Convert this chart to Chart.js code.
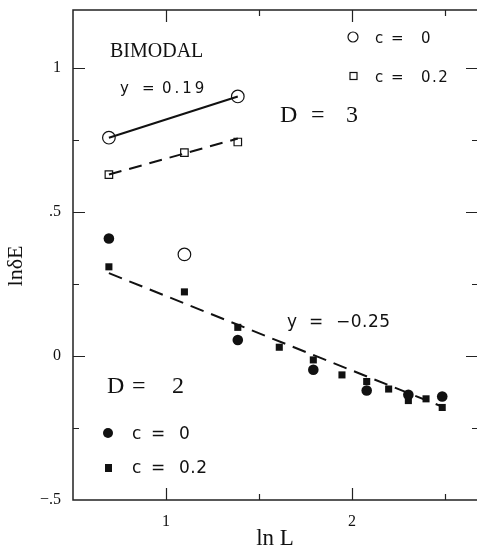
<!DOCTYPE html>
<html>
<head>
<meta charset="utf-8">
<script src="https://cdn.jsdelivr.net/npm/chart.js@4/dist/chart.umd.min.js"></script>
<style>
  html, body { margin: 0; padding: 0; background: #fff; }
  #wrap { width: 477px; height: 559px; }
</style>
</head>
<body>
<div id="wrap"><canvas id="lnE"></canvas></div>
<script>
// ln L values and ln dE readings
const d3c0X = [0.693, 1.099, 1.386];
const d3c0Y = [0.757, 0.352, 0.900];
const d3c02X = [0.693, 1.099, 1.386];
const d3c02Y = [0.629, 0.705, 0.742];
const d2c0X = [0.693, 1.386, 1.792, 2.079, 2.303, 2.485];
const d2c0Y = [0.407, 0.055, -0.048, -0.120, -0.135, -0.141];
const d2c02X = [0.693, 1.099, 1.386, 1.609, 1.792, 1.946, 2.079, 2.197, 2.303, 2.398, 2.485];
const d2c02Y = [0.309, 0.222, 0.099, 0.030, -0.014, -0.066, -0.089, -0.115, -0.155, -0.149, -0.179];

// fitted lines (end points)
const fit3c0X = [0.693, 1.386];
const fit3c0Y = [0.757, 0.900];
const fit3c02X = [0.693, 1.386];
const fit3c02Y = [0.629, 0.754];
const fit2X = [0.693, 2.485];
const fit2Y = [0.287, -0.176];

// ticks
const xLabelValues = [1, 2];
const xLabels = ['1', '2'];
const yLabelValues = [-0.5, 0, 0.5, 1];
const yLabels = ['\u2212.5', '0', '.5', '1'];
const xMajor = [1, 2];
const xMinor = [1.5, 2.5];
const yMajor = [0, 0.5, 1];
const yMinor = [-0.25, 0.25, 0.75];

const pts = (xs, ys) => xs.map((x, i) => ({ x: x, y: ys[i] }));
const ink = '#111';
const serif = '"Liberation Serif", "DejaVu Serif", serif';
const sans = '"DejaVu Sans", sans-serif';

function pick(vals, labs, v) {
  const i = vals.findIndex(t => Math.abs(t - v) < 1e-6);
  return i < 0 ? '' : labs[i];
}

// box (right edge falls off the page) + inward ticks on all four sides
const frame = {
  id: 'frame',
  beforeDatasetsDraw(chart) {
    const { ctx, chartArea: a, scales: { x, y } } = chart;
    ctx.save();
    ctx.strokeStyle = '#222';
    ctx.lineWidth = 1.5;
    ctx.beginPath();
    ctx.moveTo(a.right + 2, a.top); ctx.lineTo(a.left, a.top);
    ctx.lineTo(a.left, a.bottom); ctx.lineTo(a.right + 2, a.bottom);
    ctx.stroke();
    ctx.lineWidth = 1.2;
    ctx.beginPath();
    const tx = (vals, len) => vals.forEach(v => {
      const px = Math.round(x.getPixelForValue(v)) + 0.5;
      ctx.moveTo(px, a.bottom); ctx.lineTo(px, a.bottom - len);
      ctx.moveTo(px, a.top); ctx.lineTo(px, a.top + len);
    });
    const ty = (vals, len) => vals.forEach(v => {
      const py = Math.round(y.getPixelForValue(v)) + 0.5;
      ctx.moveTo(a.left, py); ctx.lineTo(a.left + len, py);
      ctx.moveTo(a.right + 1, py); ctx.lineTo(a.right + 1 - len, py);
    });
    tx(xMajor, 12); tx(xMinor, 6);
    ty(yMajor, 12); ty(yMinor, 6);
    ctx.stroke();
    ctx.restore();
  }
};

function tokens(ctx, font, gap, list, base) {
  ctx.font = font;
  ctx.letterSpacing = gap;
  list.forEach(([t, px]) => ctx.fillText(t, px, base));
}

// in-plot labels and the two small legends
const notes = {
  id: 'notes',
  afterDraw(chart) {
    const ctx = chart.ctx;
    ctx.save();
    ctx.fillStyle = ink;
    ctx.strokeStyle = ink;
    ctx.textBaseline = 'alphabetic';
    ctx.textAlign = 'left';
    tokens(ctx, '20px ' + serif, '0px', [['BIMODAL', 110]], 57);
    tokens(ctx, '24px ' + serif, '0px', [['D', 280], ['=', 311], ['3', 346]], 122);
    tokens(ctx, '24px ' + serif, '0px', [['D', 107], ['=', 132], ['2', 172]], 393);
    tokens(ctx, '15px ' + sans, '3px', [['y', 120], ['=', 142], ['0.19', 162]], 93);
    tokens(ctx, '15px ' + sans, '1.5px', [['c', 375], ['=', 391], ['0', 421]], 43);
    tokens(ctx, '15px ' + sans, '1.5px', [['c', 375], ['=', 391], ['0.2', 421]], 82);
    tokens(ctx, '17px ' + sans, '0.5px', [['y', 287], ['=', 309], ['\u22120.25', 336]], 327);
    tokens(ctx, '17px ' + sans, '0.5px', [['c', 132], ['=', 151], ['0', 179]], 439);
    tokens(ctx, '17px ' + sans, '0.5px', [['c', 132], ['=', 151], ['0.2', 179]], 473);
    ctx.letterSpacing = '0px';
    // legend markers
    ctx.lineWidth = 1.2;
    ctx.beginPath(); ctx.arc(353, 37, 5, 0, Math.PI * 2); ctx.stroke();
    ctx.strokeRect(350, 72.5, 7, 7);
    ctx.beginPath(); ctx.arc(108, 433, 5, 0, Math.PI * 2); ctx.fill();
    ctx.fillRect(105, 464, 7, 8);
    ctx.restore();
  }
};

new Chart(document.getElementById('lnE'), {
  type: 'scatter',
  data: {
    datasets: [
      {
        data: pts(fit3c0X, fit3c0Y), showLine: true, pointRadius: 0,
        borderColor: ink, borderWidth: 2
      },
      {
        data: pts(fit3c02X, fit3c02Y), showLine: true, pointRadius: 0,
        borderColor: ink, borderWidth: 2, borderDash: [13, 8]
      },
      {
        data: pts(fit2X, fit2Y), showLine: true, pointRadius: 0,
        borderColor: ink, borderWidth: 2, borderDash: [14, 8]
      },
      {
        label: 'D=3, c=0', data: pts(d3c0X, d3c0Y), pointStyle: 'circle', pointRadius: 6.3,
        backgroundColor: '#fff', borderColor: ink, borderWidth: 1.2
      },
      {
        label: 'D=3, c=0.2', data: pts(d3c02X, d3c02Y), pointStyle: 'rect', pointRadius: 5.3,
        backgroundColor: '#fff', borderColor: ink, borderWidth: 1.2
      },
      {
        label: 'D=2, c=0', data: pts(d2c0X, d2c0Y), pointStyle: 'circle', pointRadius: 5.3,
        backgroundColor: ink, borderColor: ink, borderWidth: 0
      },
      {
        label: 'D=2, c=0.2', data: pts(d2c02X, d2c02Y), pointStyle: 'rect', pointRadius: 5,
        backgroundColor: ink, borderColor: ink, borderWidth: 0
      }
    ]
  },
  options: {
    responsive: true,
    maintainAspectRatio: false,
    animation: false,
    layout: { autoPadding: false, padding: { top: 10, right: 0, left: 0, bottom: 0 } },
    plugins: { legend: { display: false }, tooltip: { enabled: false } },
    scales: {
      x: {
        type: 'linear', min: 0.5, max: 2.672,
        afterFit: s => { s.height = 59; s.paddingLeft = 0; s.paddingRight = 0; },
        border: { display: false },
        grid: { display: false, drawTicks: false },
        ticks: {
          stepSize: 0.5, padding: 12, maxRotation: 0, autoSkip: false,
          color: ink, font: { family: serif, size: 16 },
          callback: v => pick(xLabelValues, xLabels, v)
        },
        title: {
          display: true, text: 'ln L', color: ink,
          font: { family: serif, size: 23 }, padding: { top: 0, bottom: 6 }
        }
      },
      y: {
        type: 'linear', min: -0.5, max: 1.2,
        afterFit: s => { s.width = 73; s.paddingTop = 0; s.paddingBottom = 0; },
        border: { display: false },
        grid: { display: false, drawTicks: false },
        ticks: {
          stepSize: 0.25, padding: 12, autoSkip: false,
          color: ink, font: { family: serif, size: 16 },
          callback: v => pick(yLabelValues, yLabels, v)
        },
        title: {
          display: true, text: 'ln\u03B4E\u00a0\u00a0\u00a0\u00a0', color: ink,
          font: { family: serif, size: 22 }, padding: { top: 3, bottom: 0 }
        }
      }
    }
  },
  plugins: [frame, notes]
});
</script>
</body>
</html>
